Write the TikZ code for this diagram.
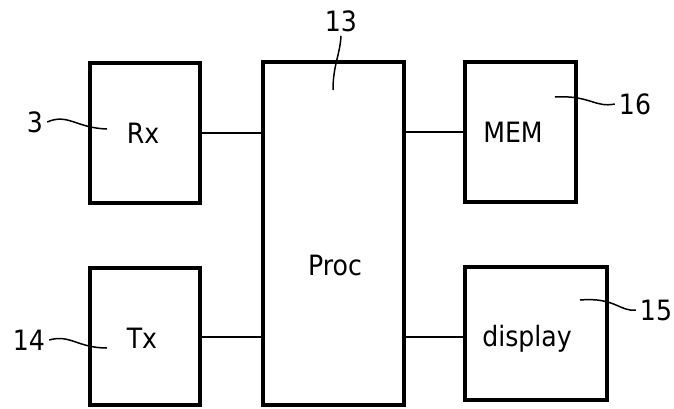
\documentclass[tikz,border=0pt]{standalone}
\usepackage{fontspec}
\setmainfont{DejaVu Sans Condensed}
\begin{document}
\begin{tikzpicture}[x=1pt,y=-1pt,
  blk/.style={draw,line width=3.8pt,inner sep=0pt},
  txt/.style={font=\fontsize{28}{30}\selectfont,inner sep=0pt},
  conn/.style={line width=2pt},
  lead/.style={line width=1.5pt},
  lbl/.style={font=\fontsize{28}{30}\selectfont,inner sep=4pt}]
\useasboundingbox (0,0) rectangle (674,408);
% boxes
\node[blk, minimum width=110pt, minimum height=140pt] (rx) at (145,133) {};
\node[blk, minimum width=110pt, minimum height=137pt] (tx) at (145,336.5) {};
\node[blk, minimum width=141pt, minimum height=343pt] (proc) at (333.5,233.5) {};
\node[blk, minimum width=111pt, minimum height=140pt] (mem) at (520.5,132) {};
\node[blk, minimum width=142pt, minimum height=133pt] (disp) at (536,333.5) {};
% texts
\node[txt] (trx) at (143,133) {Rx};
\node[txt] (ttx) at (142,338) {Tx};
\node[txt] (tproc) at (335,265) {Proc};
\node[txt] (tmem) at (513,132) {MEM};
\node[txt] (tdisp) at (527,339) {display};
% connectors
\draw[conn] (rx.east) -- (rx.east -| proc.west);
\draw[conn] (tx.east |- 0,337) -- (proc.west |- 0,337);
\draw[conn] (proc.east |- mem.west) -- (mem.west);
\draw[conn] (proc.east |- 0,337) -- (disp.west |- 0,337);
% reference labels
\node[lbl] (l3) at (35,122) {3};
\node[lbl] (l14) at (29,340) {14};
\node[lbl] (l13) at (341,21) {13};
\node[lbl] (l16) at (635,104) {16};
\node[lbl] (l15) at (656,310) {15};
\coordinate (c3) at (107,129);
\coordinate (c14) at (107,348);
\coordinate (c13) at (333,90);
\coordinate (c16) at (555,97);
\coordinate (c15) at (580,300);
\draw[lead] (l3.east) .. controls (68,113) and (76,128) .. (c3);
\draw[lead] (l14.east) .. controls (70,334) and (78,348) .. (c14);
\draw[lead] (l13.south) .. controls (340,55) and (333,65) .. (c13);
\draw[lead] (c16) .. controls (590,95) and (595,108) .. (l16.west);
\draw[lead] (c15) .. controls (615,297) and (620,312) .. (l15.west);
\end{tikzpicture}
\end{document}
